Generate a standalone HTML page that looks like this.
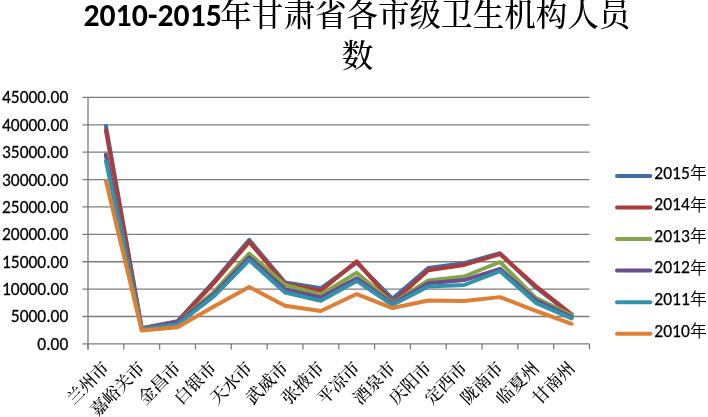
<!DOCTYPE html>
<html><head><meta charset="utf-8"><style>
html,body{margin:0;padding:0;background:#fff;}
body{width:708px;height:417px;overflow:hidden;position:relative;}
svg{position:absolute;left:0;top:0;}
.lat{font-family:Carlito,"Liberation Sans",sans-serif;}
</style></head><body>
<svg width="708" height="417" viewBox="0 0 708 417">
<rect width="708" height="417" fill="#fff"/>
<g stroke="#7c7c7c" stroke-width="1.3" fill="none"><line x1="82.5" y1="343.90" x2="589.5" y2="343.90"/><line x1="82.5" y1="316.51" x2="589.5" y2="316.51"/><line x1="82.5" y1="289.12" x2="589.5" y2="289.12"/><line x1="82.5" y1="261.73" x2="589.5" y2="261.73"/><line x1="82.5" y1="234.34" x2="589.5" y2="234.34"/><line x1="82.5" y1="206.96" x2="589.5" y2="206.96"/><line x1="82.5" y1="179.57" x2="589.5" y2="179.57"/><line x1="82.5" y1="152.18" x2="589.5" y2="152.18"/><line x1="82.5" y1="124.79" x2="589.5" y2="124.79"/><line x1="82.5" y1="97.40" x2="589.5" y2="97.40"/><line x1="88.00" y1="97.40" x2="88.00" y2="349.40"/><line x1="88.00" y1="343.90" x2="88.00" y2="349.40"/><line x1="123.82" y1="343.90" x2="123.82" y2="349.40"/><line x1="159.64" y1="343.90" x2="159.64" y2="349.40"/><line x1="195.46" y1="343.90" x2="195.46" y2="349.40"/><line x1="231.29" y1="343.90" x2="231.29" y2="349.40"/><line x1="267.11" y1="343.90" x2="267.11" y2="349.40"/><line x1="302.93" y1="343.90" x2="302.93" y2="349.40"/><line x1="338.75" y1="343.90" x2="338.75" y2="349.40"/><line x1="374.57" y1="343.90" x2="374.57" y2="349.40"/><line x1="410.39" y1="343.90" x2="410.39" y2="349.40"/><line x1="446.21" y1="343.90" x2="446.21" y2="349.40"/><line x1="482.04" y1="343.90" x2="482.04" y2="349.40"/><line x1="517.86" y1="343.90" x2="517.86" y2="349.40"/><line x1="553.68" y1="343.90" x2="553.68" y2="349.40"/><line x1="589.50" y1="343.90" x2="589.50" y2="349.40"/></g>
<g transform="translate(68.3,0) scale(0.987,1)" font-size="17.7" fill="#000" stroke="#000" stroke-width="0.25"><text class="lat" x="0" y="349.85" text-anchor="end" textLength="31.38" lengthAdjust="spacingAndGlyphs">0.00</text><text class="lat" x="0" y="322.46" text-anchor="end" textLength="58.28" lengthAdjust="spacingAndGlyphs">5000.00</text><text class="lat" x="0" y="295.07" text-anchor="end" textLength="67.25" lengthAdjust="spacingAndGlyphs">10000.00</text><text class="lat" x="0" y="267.68" text-anchor="end" textLength="67.25" lengthAdjust="spacingAndGlyphs">15000.00</text><text class="lat" x="0" y="240.29" text-anchor="end" textLength="67.25" lengthAdjust="spacingAndGlyphs">20000.00</text><text class="lat" x="0" y="212.91" text-anchor="end" textLength="67.25" lengthAdjust="spacingAndGlyphs">25000.00</text><text class="lat" x="0" y="185.52" text-anchor="end" textLength="67.25" lengthAdjust="spacingAndGlyphs">30000.00</text><text class="lat" x="0" y="158.13" text-anchor="end" textLength="67.25" lengthAdjust="spacingAndGlyphs">35000.00</text><text class="lat" x="0" y="130.74" text-anchor="end" textLength="67.25" lengthAdjust="spacingAndGlyphs">40000.00</text><text class="lat" x="0" y="103.35" text-anchor="end" textLength="67.25" lengthAdjust="spacingAndGlyphs">45000.00</text></g>
<polyline points="105.91,125.88 141.73,328.23 177.55,321.17 213.38,282.00 249.20,239.82 285.02,282.55 320.84,288.30 356.66,262.55 392.48,298.71 428.30,268.09 464.12,263.16 499.95,253.19 535.77,287.48 571.59,314.87" fill="none" stroke="#406DA9" stroke-width="4" stroke-linejoin="round" stroke-linecap="round"/>
<polyline points="105.91,130.27 141.73,328.45 177.55,321.71 213.38,283.64 249.20,242.01 285.02,283.64 320.84,290.82 356.66,261.40 392.48,302.54 428.30,270.22 464.12,264.91 499.95,254.06 535.77,286.00 571.59,314.32" fill="none" stroke="#AD3B39" stroke-width="4" stroke-linejoin="round" stroke-linecap="round"/>
<polyline points="105.91,153.82 141.73,328.67 177.55,322.26 213.38,292.41 249.20,253.52 285.02,284.74 320.84,294.65 356.66,272.69 392.48,303.09 428.30,280.47 464.12,276.52 499.95,262.01 535.77,297.89 571.59,315.42" fill="none" stroke="#83A548" stroke-width="4" stroke-linejoin="round" stroke-linecap="round"/>
<polyline points="105.91,154.92 141.73,328.84 177.55,322.26 213.38,294.60 249.20,257.35 285.02,289.12 320.84,297.39 356.66,278.17 392.48,303.91 428.30,283.21 464.12,280.08 499.95,268.85 535.77,300.08 571.59,317.06" fill="none" stroke="#694F8C" stroke-width="4" stroke-linejoin="round" stroke-linecap="round"/>
<polyline points="105.91,160.94 141.73,329.11 177.55,324.45 213.38,296.79 249.20,260.09 285.02,292.57 320.84,300.68 356.66,280.91 392.48,305.01 428.30,286.49 464.12,285.01 499.95,271.05 535.77,302.82 571.59,318.43" fill="none" stroke="#3392AB" stroke-width="4" stroke-linejoin="round" stroke-linecap="round"/>
<polyline points="105.91,180.66 141.73,330.48 177.55,327.19 213.38,306.65 249.20,286.93 285.02,305.83 320.84,311.03 356.66,294.05 392.48,308.02 428.30,300.46 464.12,300.90 499.95,297.12 535.77,310.76 571.59,323.80" fill="none" stroke="#DF7F33" stroke-width="4" stroke-linejoin="round" stroke-linecap="round"/>
<g font-family="'Liberation Serif','Noto Serif CJK SC',serif" font-size="17.2" font-weight="500" fill="#000"><text transform="translate(110.21,369.0) rotate(-45)" text-anchor="end">兰州市</text><text transform="translate(146.03,369.0) rotate(-45)" text-anchor="end">嘉峪关市</text><text transform="translate(181.85,369.0) rotate(-45)" text-anchor="end">金昌市</text><text transform="translate(217.68,369.0) rotate(-45)" text-anchor="end">白银市</text><text transform="translate(253.50,369.0) rotate(-45)" text-anchor="end">天水市</text><text transform="translate(289.32,369.0) rotate(-45)" text-anchor="end">武威市</text><text transform="translate(325.14,369.0) rotate(-45)" text-anchor="end">张掖市</text><text transform="translate(360.96,369.0) rotate(-45)" text-anchor="end">平凉市</text><text transform="translate(396.78,369.0) rotate(-45)" text-anchor="end">酒泉市</text><text transform="translate(432.60,369.0) rotate(-45)" text-anchor="end">庆阳市</text><text transform="translate(468.43,369.0) rotate(-45)" text-anchor="end">定西市</text><text transform="translate(504.25,369.0) rotate(-45)" text-anchor="end">陇南市</text><text transform="translate(540.07,369.0) rotate(-45)" text-anchor="end">临夏州</text><text transform="translate(575.89,369.0) rotate(-45)" text-anchor="end">甘南州</text></g>
<g><line x1="617" y1="175.90" x2="650.4" y2="175.90" stroke="#406DA9" stroke-width="4" stroke-linecap="round"/><text class="lat" x="654.3" y="178.70" font-size="17.5" stroke="#000" stroke-width="0.25" textLength="35.48" lengthAdjust="spacingAndGlyphs">2015</text><text x="689.9" y="179.00" font-size="16.8" font-weight="350" font-family="'Noto Sans CJK SC',sans-serif">年</text><line x1="617" y1="207.46" x2="650.4" y2="207.46" stroke="#AD3B39" stroke-width="4" stroke-linecap="round"/><text class="lat" x="654.3" y="210.26" font-size="17.5" stroke="#000" stroke-width="0.25" textLength="35.48" lengthAdjust="spacingAndGlyphs">2014</text><text x="689.9" y="210.56" font-size="16.8" font-weight="350" font-family="'Noto Sans CJK SC',sans-serif">年</text><line x1="617" y1="239.02" x2="650.4" y2="239.02" stroke="#83A548" stroke-width="4" stroke-linecap="round"/><text class="lat" x="654.3" y="241.82" font-size="17.5" stroke="#000" stroke-width="0.25" textLength="35.48" lengthAdjust="spacingAndGlyphs">2013</text><text x="689.9" y="242.12" font-size="16.8" font-weight="350" font-family="'Noto Sans CJK SC',sans-serif">年</text><line x1="617" y1="270.58" x2="650.4" y2="270.58" stroke="#694F8C" stroke-width="4" stroke-linecap="round"/><text class="lat" x="654.3" y="273.38" font-size="17.5" stroke="#000" stroke-width="0.25" textLength="35.48" lengthAdjust="spacingAndGlyphs">2012</text><text x="689.9" y="273.68" font-size="16.8" font-weight="350" font-family="'Noto Sans CJK SC',sans-serif">年</text><line x1="617" y1="302.14" x2="650.4" y2="302.14" stroke="#3392AB" stroke-width="4" stroke-linecap="round"/><text class="lat" x="654.3" y="304.94" font-size="17.5" stroke="#000" stroke-width="0.25" textLength="35.48" lengthAdjust="spacingAndGlyphs">2011</text><text x="689.9" y="305.24" font-size="16.8" font-weight="350" font-family="'Noto Sans CJK SC',sans-serif">年</text><line x1="617" y1="333.70" x2="650.4" y2="333.70" stroke="#DF7F33" stroke-width="4" stroke-linecap="round"/><text class="lat" x="654.3" y="336.50" font-size="17.5" stroke="#000" stroke-width="0.25" textLength="35.48" lengthAdjust="spacingAndGlyphs">2010</text><text x="689.9" y="336.80" font-size="16.8" font-weight="350" font-family="'Noto Sans CJK SC',sans-serif">年</text></g>
<text class="lat" x="83.4" y="25.6" font-size="31.5" font-weight="bold" textLength="138.45" lengthAdjust="spacingAndGlyphs">2010-2015</text>
<text x="220.3" y="25.6" font-size="31.55" font-family="'Noto Serif CJK SC',serif" font-weight="500">年甘肃省各市级卫生机构人员</text>
<text x="357.5" y="67" text-anchor="middle" font-size="31.55" font-weight="500" font-family="'Noto Serif CJK SC',serif">数</text>
</svg>
</body></html>
